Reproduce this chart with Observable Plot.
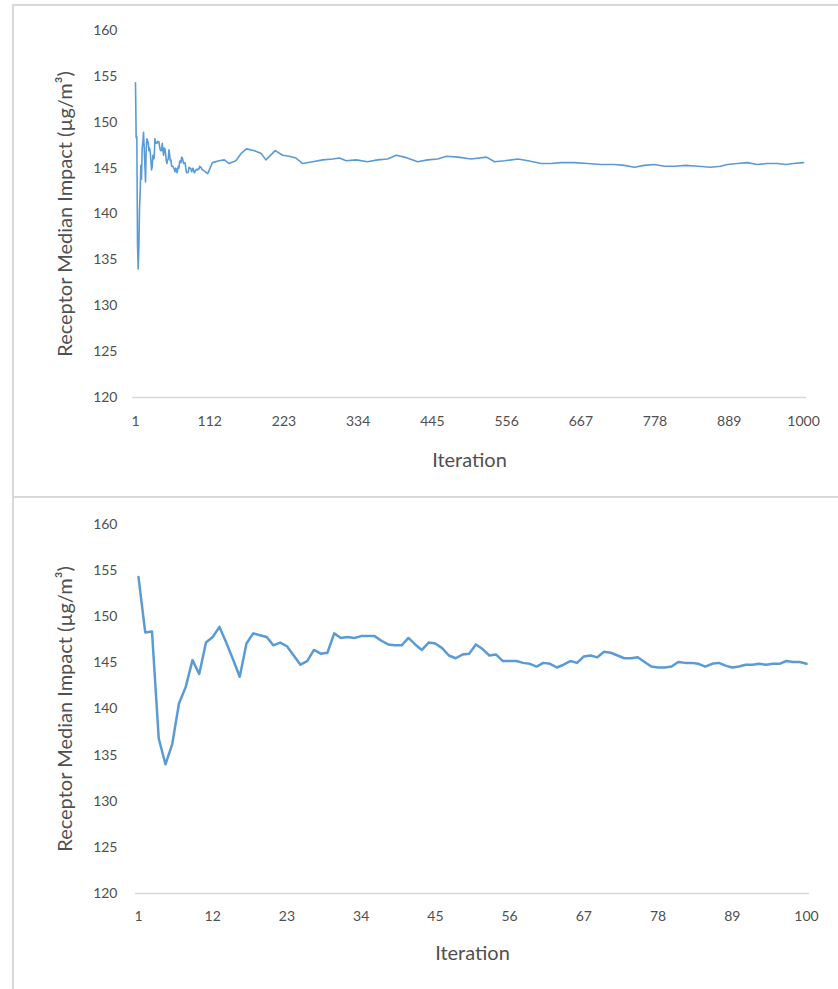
<!DOCTYPE html>
<html>
<head>
<meta charset="utf-8">
<script src="https://cdn.jsdelivr.net/npm/d3@7"></script>
<script src="https://cdn.jsdelivr.net/npm/@observablehq/plot@0.6"></script>
<style>
  html, body { margin: 0; padding: 0; background: #fff; }
  body { width: 838px; height: 989px; overflow: hidden; position: relative; font-family: Lato, "Open Sans", sans-serif; }
  .frame { position: absolute; border-top: 2px solid #d9d9d9; border-left: 2px solid #d9d9d9; box-sizing: border-box; }
  .chart { position: absolute; left: 0; }
</style>
</head>
<body>
<div class="frame" style="left:12px; top:4px; width:900px; height:494px;"></div>
<div class="frame" style="left:12px; top:496px; width:900px; height:520px;"></div>
<div id="top" class="chart" style="top:0px;"></div>
<div id="bottom" class="chart" style="top:497px;"></div>
<script>
// ---- Data ----
const yTicks = [120, 125, 130, 135, 140, 145, 150, 155, 160];
const topXTicks = [1, 112, 223, 334, 445, 556, 667, 778, 889, 1000];
const bottomXTicks = [1, 12, 23, 34, 45, 56, 67, 78, 89, 100];
const xLabel = "Iteration";
const yLabel = "Receptor Median Impact (µg/m³)";

// Median impact for iterations 1..100 (lower panel)
const first100Values = [
  154.3, 148.3, 148.4, 136.8, 134.0, 136.2, 140.6, 142.4, 145.3, 143.8,
  147.2, 147.8, 148.9, 147.2, 145.4, 143.5, 147.1, 148.2, 148.0, 147.8,
  146.9, 147.2, 146.8, 145.8, 144.8, 145.2, 146.4, 146.0, 146.1, 148.2,
  147.7, 147.8, 147.7, 147.9, 147.9, 147.9, 147.4, 147.0, 146.9, 146.9,
  147.7, 147.0, 146.4, 147.2, 147.1, 146.6, 145.8, 145.5, 145.9, 146.0,
  147.0, 146.5, 145.8, 145.9, 145.2, 145.2, 145.2, 145.0, 144.9, 144.6,
  145.0, 144.9, 144.5, 144.8, 145.2, 145.0, 145.7, 145.8, 145.6, 146.2,
  146.1, 145.8, 145.5, 145.5, 145.6, 145.1, 144.6, 144.5, 144.5, 144.6,
  145.1, 145.0, 145.0, 144.9, 144.6, 144.9, 145.0, 144.7, 144.5, 144.6,
  144.8, 144.8, 144.9, 144.8, 144.9, 144.9, 145.2, 145.1, 145.1, 144.9
];

// Later iterations (upper panel), read at sampled iterations
const laterIterations = [
  109, 116, 126, 134, 141, 151, 159, 167, 179, 189, 196, 210, 221, 231, 241,
  251, 266, 281, 296, 306, 316, 331, 348, 363, 378, 391, 403, 423, 438, 453,
  466, 483, 503, 526, 538, 553, 573, 588, 608, 622, 637, 657, 677, 697, 717,
  732, 747, 762, 777, 792, 807, 824, 842, 861, 876, 886, 901, 916, 931, 946,
  961, 973, 985, 1000
];
const laterValues = [
  144.4, 145.6, 145.8, 145.9, 145.5, 145.8, 146.6, 147.1, 146.9, 146.6, 145.9, 146.9, 146.4, 146.3, 146.1,
  145.5, 145.7, 145.9, 146.0, 146.1, 145.8, 145.9, 145.7, 145.9, 146.0, 146.4, 146.2, 145.7, 145.9, 146.0,
  146.3, 146.2, 146.0, 146.2, 145.7, 145.8, 146.0, 145.8, 145.5, 145.5, 145.6, 145.6, 145.5, 145.4, 145.4,
  145.3, 145.1, 145.3, 145.4, 145.2, 145.2, 145.3, 145.2, 145.1, 145.2, 145.4, 145.5, 145.6, 145.4, 145.5,
  145.5, 145.4, 145.5, 145.6
];

// ---- Build tables ----
const bottomData = first100Values.map((v, i) => ({iter: i + 1, value: v}));
const topData = bottomData.concat(laterIterations.map((it, i) => ({iter: it, value: laterValues[i]})));

const lineColor = "#5B9BD5";
const textColor = "#505050";
const fontFamily = "Lato, 'Open Sans', sans-serif";

function makeChart({data, width, height, mL, mR, mT, mB, xDomain, xTicks, stroke, xPad, yPad, labelDy, labelDx}) {
  return Plot.plot({
    width, height,
    marginLeft: mL, marginRight: mR, marginTop: mT, marginBottom: mB,
    style: {fontFamily, fontSize: "14px", color: textColor, background: "transparent", overflow: "visible"},
    x: {domain: xDomain, ticks: xTicks, tickFormat: d => String(d), tickSize: 0, tickPadding: xPad, label: null},
    y: {domain: [120, 160], ticks: yTicks, tickFormat: d => String(d), tickSize: 0, tickPadding: yPad, label: null},
    marks: [
      Plot.ruleY([120], {stroke: "#d9d9d9", strokeWidth: 1.3, insetLeft: -3, insetRight: -3}),
      Plot.lineY(data, {x: "iter", y: "value", stroke: lineColor, strokeWidth: stroke, strokeLinejoin: "round"}),
      Plot.text([xLabel], {frameAnchor: "bottom", lineAnchor: "middle", textAnchor: "middle", dy: labelDy, fontSize: 20, fill: textColor}),
      Plot.text([yLabel], {frameAnchor: "left", lineAnchor: "middle", textAnchor: "middle", rotate: -90, dx: labelDx, fontSize: 20, fill: textColor})
    ]
  });
}

document.getElementById("top").appendChild(makeChart({
  data: topData, width: 838, height: 497, mL: 135, mR: 35, mT: 30, mB: 100,
  xDomain: [1, 1000], xTicks: topXTicks, stroke: 1.6, xPad: 19, yPad: 18, labelDy: 63, labelDx: -70
}));

document.getElementById("bottom").appendChild(makeChart({
  data: bottomData, width: 838, height: 492, mL: 138, mR: 32, mT: 27, mB: 96,
  xDomain: [1, 100], xTicks: bottomXTicks, stroke: 2.5, xPad: 18, yPad: 21, labelDy: 60, labelDx: -73
}));
</script>
</body>
</html>
